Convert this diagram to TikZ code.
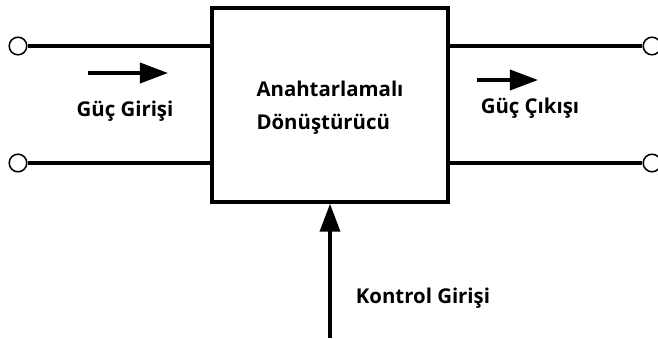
\documentclass[tikz,border=0pt]{standalone}
\usepackage{fontspec}
\setmainfont{Open Sans}
\usetikzlibrary{arrows.meta, positioning, calc}
\tikzset{
  conv/.style  = {draw, rectangle, line width=2.4pt, align=left,
                  minimum width=5.9cm, minimum height=4.85cm},
  term/.style  = {draw, circle, fill=white, line width=1.1pt,
                  minimum size=0.44cm, inner sep=0pt},
  wire/.style  = {line width=2.2pt},
  flow/.style  = {-{Triangle[length=0.7cm, width=0.5cm]}, line width=2.6pt},
  lbl/.style   = {font=\fontsize{14.5}{23.5}\selectfont\bfseries, align=left}
}

\begin{document}
\begin{tikzpicture}[x=0.025cm, y=-0.025cm]
  \useasboundingbox (0,0) rectangle (658,338);

  % -- Converter block --------------------------------------------------
  \node[conv] (conv) at (330,105) {};
  \node[lbl] (convtxt) at (330,108) {Anahtarlamalı\\Dönüştürücü};

  % -- Terminals --------------------------------------------------------
  \node[term] (inTop)  at (18,46)  {};
  \node[term] (inBot)  at (18,163) {};
  \node[term] (outTop) at (652,46)  {};
  \node[term] (outBot) at (652,163) {};

  % -- Wires ------------------------------------------------------------
  \draw[wire] (inTop)  -- (inTop -| conv.west);
  \draw[wire] (inBot)  -- (inBot -| conv.west);
  \draw[wire] (outTop) -- (outTop -| conv.east);
  \draw[wire] (outBot) -- (outBot -| conv.east);

  % -- Power flow arrows ------------------------------------------------
  \coordinate (pinA) at (88,73);
  \coordinate (pinB) at (168,73);
  \draw[flow] (pinA) -- (pinB);
  \node[lbl] (pin) at (125,111) {Güç Girişi};

  \coordinate (poutA) at (477,80);
  \coordinate (poutB) at (538,80);
  \draw[flow] (poutA) -- (poutB);
  \node[lbl] (pout) at (530,108) {Güç Çıkışı};

  % -- Control input ----------------------------------------------------
  \coordinate (ctrl) at (330,338);
  \draw[flow] (ctrl) -- (conv.south);
  \node[lbl] (ctrltxt) at (423,298) {Kontrol Girişi};

\end{tikzpicture}
\end{document}
